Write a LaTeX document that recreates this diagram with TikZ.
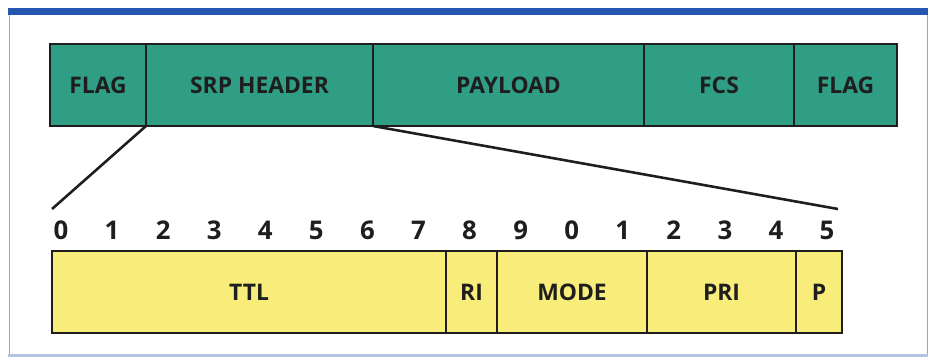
\documentclass[tikz,border=0pt]{standalone}
\usepackage{fontspec}
\setsansfont{Open Sans}
\usepackage{tikz}
\usetikzlibrary{positioning, calc}

\definecolor{frameteal}{RGB}{47,158,133}
\definecolor{bityellow}{RGB}{248,236,122}
\definecolor{barblue}{RGB}{38,86,176}
\definecolor{inkgray}{RGB}{30,30,30}

\tikzset{
  field/.style={draw=inkgray, line width=1.4pt, rectangle, inner sep=0pt, outer sep=0pt,
    anchor=north west, minimum height=2.46cm, font=\sffamily\bfseries\fontsize{19.5}{22}\selectfont, text=inkgray},
  topfield/.style={field, fill=frameteal},
  bitfield/.style={field, fill=bityellow},
  bitnum/.style={font=\sffamily\bfseries\fontsize{22}{24}\selectfont, text=inkgray, inner sep=0pt},
  zoomline/.style={draw=inkgray, line width=2.2pt}
}

\begin{document}
\begin{tikzpicture}[x=0.03cm,y=-0.03cm]
\useasboundingbox (0,0) rectangle (933,357);
% The frame
\fill[barblue] (8,8) rectangle (928,15);
\fill[barblue!35] (8,354) rectangle (928,357);
\draw[gray!70, line width=0.8pt] (9.5,15) -- (9.5,354);
\draw[gray!70, line width=0.8pt] (927,15) -- (927,354);
% The frame fields
\node (flagA) [topfield, minimum width=2.88cm] at (50,44) {FLAG};
\node (srp) [topfield, minimum width=6.81cm] at (flagA.north east) {SRP HEADER};
\node (payload) [topfield, minimum width=8.13cm] at (srp.north east) {PAYLOAD};
\node (fcs) [topfield, minimum width=4.5cm] at (payload.north east) {FCS};
\node (flagB) [topfield, minimum width=3.09cm] at (fcs.north east) {FLAG};
% The header bits
\node (ttl) [bitfield, minimum width=11.82cm] at (52,251) {TTL};
\node (ri) [bitfield, minimum width=1.53cm] at (ttl.north east) {RI};
\node (mode) [bitfield, minimum width=4.5cm] at (ri.north east) {MODE};
\node (pri) [bitfield, minimum width=4.47cm] at (mode.north east) {PRI};
\node (p) [bitfield, minimum width=1.38cm] at (pri.north east) {P};
% Bit numbers
\foreach \d [count=\i from 0] in {0,1,2,3,4,5,6,7,8,9,0,1,2,3,4,5}
  \node (bit\i) [bitnum] at ({61+51.07*\i},230) {\d};
% Zoom lines
\coordinate (zoomL) at (52,209);
\coordinate (zoomR) at (838,209);
\draw[zoomline] (srp.south west) -- (zoomL);
\draw[zoomline] (srp.south east) -- (zoomR);
\end{tikzpicture}
\end{document}
